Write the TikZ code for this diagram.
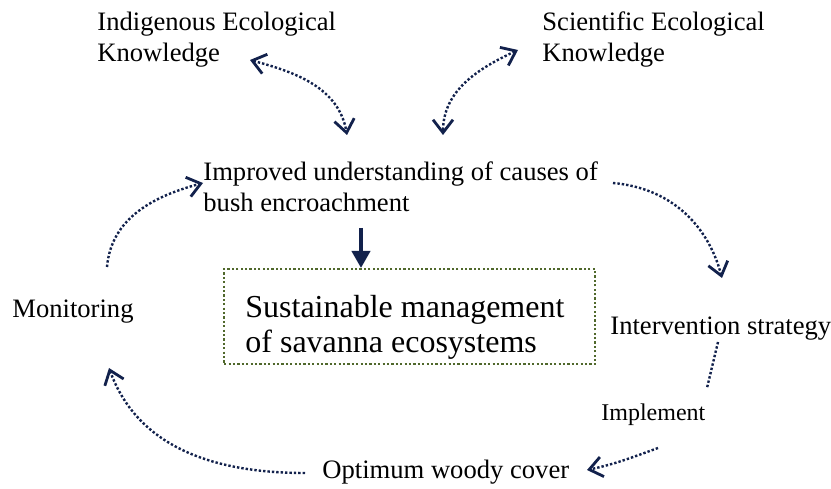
\documentclass[tikz,border=0pt]{standalone}
\usepackage{fontspec}
\setmainfont{Liberation Serif}
\usetikzlibrary{arrows.meta}

\definecolor{navy}{RGB}{18,33,76}
\definecolor{olive}{RGB}{80,104,44}

\begin{document}
\begin{tikzpicture} [
    x=0.5pt, y=0.5pt,
    txt/.style      = { anchor=base west, inner sep=0pt, align=left,
                        font=\fontsize{13.3}{15.5}\selectfont },
    smalltxt/.style = { txt, font=\fontsize{12}{14}\selectfont },
    bigtxt/.style   = { txt, font=\fontsize{16}{18}\selectfont },
    frame/.style    = { rectangle, draw=olive, line width=1.1pt,
                        dash pattern=on 1.1pt off 1.1pt, anchor=north west,
                        minimum width=185.5pt, minimum height=47.5pt },
    openhead/.tip   = { Straight Barb[length=6.5pt, width=10pt, line width=1.4pt] },
    dots/.style     = { draw=navy, line width=1.2pt, dash pattern=on 1.2pt off 1pt },
    link/.style     = { dots, -openhead },
    twoway/.style   = { dots, openhead-openhead },
    bolt/.style     = { draw=navy, line width=2pt,
                        -{Triangle[width=9pt, length=8.5pt]} },
  ]
  \useasboundingbox (0,0) rectangle (831,488);

  % Define nodes (multi-line ones sit on their last line)
  \node[txt] (ind) at (97,426) {Indigenous Ecological\\Knowledge};
  \node[txt] (sci) at (542,426) {Scientific Ecological\\Knowledge};
  \node[txt] (imp) at (203,276) {Improved understanding of causes of\\bush encroachment};
  \node[frame] (box) at (223,220) {};
  \node[bigtxt] (sust) at (245,135) {Sustainable management\\of savanna ecosystems};
  \node[txt] (mon) at (12,170) {Monitoring};
  \node[txt] (int) at (610,153) {Intervention strategy};
  \node[smalltxt] (impl) at (601,68) {Implement};
  \node[txt] (opt) at (322,10) {Optimum woody cover};

  % loose ends of the arrows
  \coordinate (ind-a)  at (250,428);
  \coordinate (imp-a)  at (347,353);
  \coordinate (sci-a)  at (518,438);
  \coordinate (imp-b)  at (443,353);
  \coordinate (imp-c)  at (613,305);
  \coordinate (int-a)  at (722,210);
  \coordinate (int-b)  at (718,146);
  \coordinate (impl-a) at (707,100);
  \coordinate (impl-b) at (658,40);
  \coordinate (opt-a)  at (587,18);
  \coordinate (opt-b)  at (305,15);
  \coordinate (mon-a)  at (109,120);
  \coordinate (mon-b)  at (107,221);
  \coordinate (imp-d)  at (203,305);
  \coordinate (imp-e)  at (361,260);

  % connect the nodes
		\path [twoway] (ind-a) to[out=-15, in=100] (imp-a);
		\path [twoway] (sci-a) to[out=205, in=90] (imp-b);
		\path [link] (imp-c) to[out=-5, in=105] (int-a);
		\path [dots] (int-b) -- (impl-a);
		\path [link] (impl-b) to[out=200, in=12] (opt-a);
		\path [link] (opt-b) to[out=180, in=-70] (mon-a);
		\path [link] (mon-b) to[out=85, in=195] (imp-d);
		\path [bolt] (imp-e) -- (imp-e |- box.north);
\end{tikzpicture}
\end{document}
